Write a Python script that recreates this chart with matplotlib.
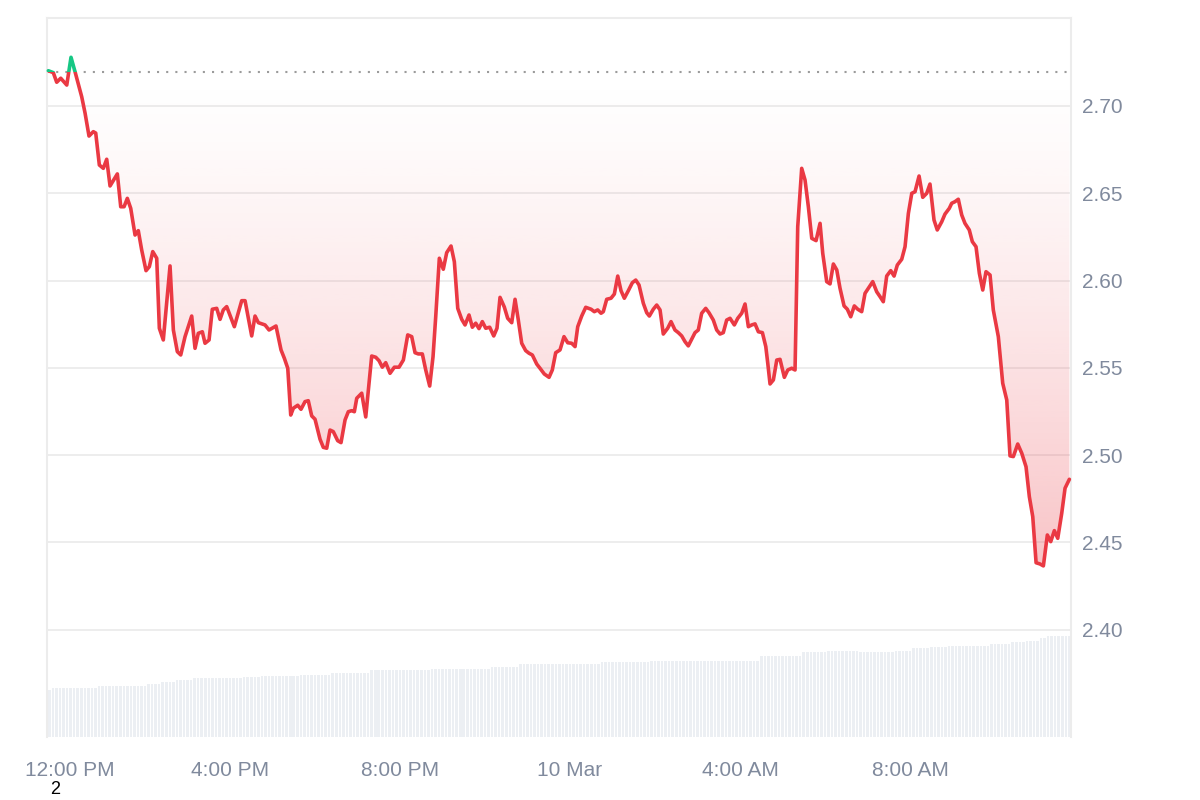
import numpy as np
import matplotlib
matplotlib.use("Agg")
import matplotlib.pyplot as plt
from matplotlib.patches import Rectangle, PathPatch
from matplotlib.path import Path
import matplotlib.transforms as mtransforms

plt.rcParams['font.family'] = ['Liberation Sans', 'DejaVu Sans']

# ---------------- data ----------------
# minutes since 12:00 PM (9 Mar)
times = [-16.5, -9.5, -4.7, 1.0, 9.5, 15.5, 21.2, 30.6, 35.3, 40.9, 47.0, 50.4, 55.5, 61.1, 65.9,
         70.6, 80.9, 85.7, 90.4, 95.0, 99.8, 105.9, 110.5, 115.3, 121.4, 126.1, 130.9, 136.5, 140.2,
         145.8, 155.3, 160.0, 165.6, 170.4, 176.5, 185.9, 190.6, 195.2, 200.9, 204.7, 210.4, 215.0,
         221.2, 225.9, 230.5, 235.3, 246.1, 256.5, 261.2, 270.6, 275.3, 280.0, 289.4, 295.1, 304.9,
         312.0, 316.7, 321.5, 325.7, 329.4, 335.6, 340.2, 345.9, 350.5, 355.3, 360.0, 367.1, 371.7,
         376.5, 381.2, 385.8, 392.0, 396.7, 402.4, 407.0, 411.8, 415.5, 418.9, 425.9, 431.6, 440.0,
         445.7, 450.4, 455.0, 459.8, 465.9, 472.0, 478.6, 484.7, 490.9, 496.5, 501.2, 505.8, 511.5,
         516.3, 521.9, 526.6, 530.4, 535.5, 541.1, 545.9, 552.0, 556.7, 561.5, 567.1, 571.8, 577.4,
         582.1, 586.9, 591.5, 596.2, 601.0, 606.6, 612.3, 616.9, 621.2, 627.2, 632.0, 637.7, 642.4,
         647.0, 651.8, 657.4, 662.1, 666.8, 673.0, 677.6, 683.7, 690.4, 695.0, 699.8, 705.9, 711.5,
         716.8, 722.4, 727.1, 730.9, 736.5, 742.2, 749.7, 754.3, 759.1, 763.8, 767.0, 771.8, 777.9,
         782.6, 787.4, 792.0, 796.7, 802.3, 808.0, 812.8, 817.4, 823.5, 828.3, 832.0, 837.6, 842.4,
         847.1, 851.7, 857.9, 862.6, 868.2, 872.9, 877.7, 882.4, 887.0, 891.8, 896.5, 901.1, 905.9,
         911.6, 916.2, 922.3, 927.1, 931.8, 936.4, 941.2, 945.9, 952.0, 956.8, 962.4, 967.1, 971.8,
         976.6, 981.2, 985.9, 991.6, 996.4, 999.2, 1002.4, 1007.1, 1011.9, 1016.5, 1022.6, 1027.4,
         1033.0, 1037.7, 1041.5, 1047.1, 1051.8, 1056.5, 1061.3, 1067.4, 1073.0, 1076.8, 1082.4,
         1087.1, 1091.8, 1096.6, 1101.2, 1106.9, 1111.5, 1116.3, 1121.4, 1126.2, 1131.8, 1136.5,
         1141.2, 1147.4, 1153.0, 1157.7, 1162.3, 1167.1, 1172.8, 1177.5, 1182.1, 1188.3, 1193.0,
         1197.7, 1202.5, 1207.1, 1212.8, 1218.0, 1223.6, 1228.2, 1233.9, 1238.5, 1244.8, 1249.4,
         1255.5, 1258.9, 1263.5, 1268.2, 1273.0, 1277.6, 1283.7, 1288.0, 1293.2, 1297.9, 1302.7,
         1307.3, 1313.0, 1317.6, 1324.7, 1330.9, 1336.6, 1341.2, 1345.9, 1352.1, 1357.8, 1363.8,
         1368.5, 1373.3, 1378.0, 1383.5, 1388.3, 1393.9, 1398.7, 1403.8, 1408.6, 1414.2, 1418.9, 1425.0]

prices = [2.7202, 2.7191, 2.7136, 2.7159, 2.7120, 2.7279, 2.7196, 2.7053, 2.6960, 2.6828, 2.6853, 2.6845,
          2.6662, 2.6643, 2.6695, 2.6542, 2.6611, 2.6423, 2.6423, 2.6471, 2.6414, 2.6261, 2.6286, 2.6175,
          2.6057, 2.6080, 2.6166, 2.6128, 2.5727, 2.5660, 2.6084, 2.5717, 2.5593, 2.5574, 2.5679, 2.5797,
          2.5612, 2.5698, 2.5707, 2.5641, 2.5660, 2.5836, 2.5841, 2.5778, 2.5832, 2.5851, 2.5736, 2.5885,
          2.5885, 2.5683, 2.5797, 2.5759, 2.5746, 2.5717, 2.5740, 2.5603, 2.5555, 2.5498, 2.5230, 2.5269,
          2.5286, 2.5263, 2.5307, 2.5312, 2.5225, 2.5206, 2.5091, 2.5045, 2.5040, 2.5144, 2.5135, 2.5083,
          2.5072, 2.5202, 2.5249, 2.5255, 2.5249, 2.5326, 2.5355, 2.5219, 2.5568, 2.5561, 2.5541, 2.5504,
          2.5530, 2.5469, 2.5504, 2.5504, 2.5545, 2.5689, 2.5679, 2.5587, 2.5580, 2.5580, 2.5488, 2.5396,
          2.5564, 2.5793, 2.6128, 2.6065, 2.6160, 2.6198, 2.6108, 2.5841, 2.5778, 2.5746, 2.5803, 2.5733,
          2.5756, 2.5725, 2.5765, 2.5727, 2.5733, 2.5683, 2.5727, 2.5904, 2.5849, 2.5784, 2.5759, 2.5893,
          2.5774, 2.5641, 2.5599, 2.5584, 2.5574, 2.5522, 2.5498, 2.5465, 2.5446, 2.5488, 2.5587, 2.5603,
          2.5679, 2.5644, 2.5641, 2.5622, 2.5736, 2.5797, 2.5847, 2.5836, 2.5822, 2.5832, 2.5813, 2.5822,
          2.5893, 2.5899, 2.5923, 2.6026, 2.5942, 2.5899, 2.5942, 2.5988, 2.6003, 2.5975, 2.5870, 2.5816,
          2.5797, 2.5836, 2.5860, 2.5832, 2.5694, 2.5727, 2.5765, 2.5717, 2.5702, 2.5683, 2.5650, 2.5626,
          2.5664, 2.5702, 2.5717, 2.5813, 2.5841, 2.5816, 2.5774, 2.5717, 2.5694, 2.5702, 2.5774, 2.5784,
          2.5746, 2.5784, 2.5813, 2.5866, 2.5736, 2.5746, 2.5752, 2.5707, 2.5702, 2.5622, 2.5526, 2.5408,
          2.5431, 2.5545, 2.5549, 2.5446, 2.5488, 2.5498, 2.5488, 2.6309, 2.6643, 2.6576, 2.6423, 2.6242,
          2.6229, 2.6328, 2.6156, 2.5994, 2.5981, 2.6095, 2.6061, 2.5956, 2.5855, 2.5836, 2.5793, 2.5855,
          2.5836, 2.5822, 2.5927, 2.5956, 2.5994, 2.5936, 2.5908, 2.5879, 2.6026, 2.6057, 2.6026, 2.6089,
          2.6122, 2.6194, 2.6385, 2.6500, 2.6509, 2.6599, 2.6477, 2.6500, 2.6553, 2.6347, 2.6290, 2.6337,
          2.6381, 2.6414, 2.6443, 2.6452, 2.6466, 2.6376, 2.6328, 2.6290, 2.6223, 2.6194, 2.6042, 2.5946,
          2.6051, 2.6032, 2.5832, 2.5679, 2.5412, 2.5316, 2.4996, 2.4992, 2.5064, 2.5011, 2.4934, 2.4762,
          2.4648, 2.4384, 2.4377, 2.4366, 2.4543, 2.4505, 2.4568, 2.4524, 2.4667, 2.4811, 2.4862]

reference_price = 2.7195

# volume bars every 5 minutes starting at -15 min (run-length: level, number of bars)
vol_levels = [47, 48.7, 51, 52.7, 54.7, 56.7, 58.7, 60, 60.7, 62, 64, 66.5, 68, 70, 73, 75, 76,
              80.7, 85.3, 86.3, 84.7, 86.3, 88.7, 90.3, 91, 92.7, 94.7, 96.3, 98.7, 101]
vol_counts = [1, 13, 14, 4, 4, 5, 14, 5, 11, 9, 11, 17, 17, 8, 23, 14, 31,
              12, 7, 9, 10, 5, 5, 5, 12, 6, 4, 4, 2, 7]
vol_start_min = -15
vol_step_min = 5

tick_minutes = [0, 240, 480, 720, 960, 1200]
tick_labels = ["12:00 PM", "4:00 PM", "8:00 PM", "10 Mar", "4:00 AM", "8:00 AM"]
price_ticks = [2.40, 2.45, 2.50, 2.55, 2.60, 2.65, 2.70]

RED = '#ea3943'
GREEN = '#16c784'
LABEL = '#808a9d'
GRID = '#ececec'

# ---------------- figure ----------------
fig = plt.figure(figsize=(12, 8), dpi=100)
fig.patch.set_facecolor('white')
pos = [47 / 1200, 1 - 737 / 800, 1024 / 1200, 719 / 800]
axv = fig.add_axes(pos)
ax = fig.add_axes(pos, sharex=axv)
axv.set_zorder(1)
ax.set_zorder(2)
ax.patch.set_visible(False)

t = np.array(times, float)
p = np.array(prices, float)

XLO, XHI = -18.4, 1427.3
YLO, YHI = 2.3386, 2.7504

# volume
vols = np.repeat(np.array(vol_levels, float), vol_counts)
vt = vol_start_min + vol_step_min * np.arange(len(vols))
axv.bar(vt, vols, width=3.6, color='#eceff3', linewidth=0, align='center')
axv.set_ylim(0, max(vols) / 0.1405)
axv.axis('off')

ax.set_xlim(XLO, XHI)
ax.set_ylim(YLO, YHI)

# gridlines
ax.set_axisbelow(True)
ax.grid(axis='y', color=GRID, lw=1.3)
ax.grid(axis='x', visible=False)

# gradient fills
def grad_fill(mask, color, a_far, y0, y1, far_at_bottom, gamma=1.0):
    fb = ax.fill_between(t, p, reference_price, where=mask, interpolate=True,
                         facecolor='none', edgecolor='none')
    paths = fb.get_paths()
    if not paths:
        return
    path = Path.make_compound_path(*paths)
    patch = PathPatch(path, transform=ax.transData, facecolor='none', edgecolor='none')
    ax.add_patch(patch)
    n = 256
    rgb = matplotlib.colors.to_rgb(color)
    g = np.zeros((n, 1, 4))
    g[..., 0], g[..., 1], g[..., 2] = rgb
    ramp = np.linspace(0.0, 1.0, n) ** gamma
    if far_at_bottom:
        g[:, 0, 3] = a_far * ramp[::-1]
    else:
        g[:, 0, 3] = a_far * ramp
    im = ax.imshow(g, extent=[XLO, XHI, y0, y1], origin='lower', aspect='auto',
                   interpolation='bilinear', zorder=1)
    im.set_clip_path(patch)

grad_fill(p <= reference_price, RED, 0.30, p.min(), reference_price, True, gamma=1.3)
grad_fill(p >= reference_price, GREEN, 0.25, reference_price, p.max(), False)

# baseline
ax.axhline(reference_price, color='#9b9b9b', lw=1.5, ls=(0, (1, 3.4)), zorder=2.5)

# price line split at reference
clip_red = Rectangle((XLO - 100, YLO - 1), XHI - XLO + 200, reference_price - YLO + 1,
                     transform=ax.transData)
clip_green = Rectangle((XLO - 100, reference_price), XHI - XLO + 200, 2,
                       transform=ax.transData)
lr, = ax.plot(t, p, color=RED, lw=2.6, zorder=3, solid_joinstyle='round', solid_capstyle='round')
lr.set_clip_path(clip_red)
lg, = ax.plot(t, p, color=GREEN, lw=2.6, zorder=3, solid_joinstyle='round', solid_capstyle='round')
lg.set_clip_path(clip_green)

ax.set_xlim(XLO, XHI)
ax.set_ylim(YLO, YHI)

# axes styling
for s in ['left', 'right', 'top']:
    ax.spines[s].set_color(GRID)
    ax.spines[s].set_linewidth(1.5)
ax.spines['bottom'].set_visible(False)

ax.yaxis.tick_right()
ax.set_yticks(price_ticks)
ax.set_yticklabels([f'{v:.2f}' for v in price_ticks])
ax.tick_params(axis='y', length=0, pad=8, labelsize=15, labelcolor=LABEL)
ax.set_xticks([])

# x labels
for i, (m, lab) in enumerate(zip(tick_minutes, tick_labels)):
    tr = mtransforms.blended_transform_factory(ax.transData, ax.transAxes)
    if i == 0:
        tr = tr + mtransforms.ScaledTranslation(0.10, 0, fig.dpi_scale_trans)
    ax.text(m, -39 / 719, lab, transform=tr, ha='center', va='baseline',
            fontsize=15, color=LABEL)

fig.text(55 / 1200, 1 - 790 / 800, '2', ha='center', va='center', fontsize=13, color='black')

fig.savefig('out.png', dpi=100, facecolor='white')
